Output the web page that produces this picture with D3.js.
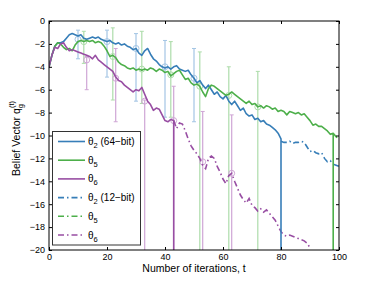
<!DOCTYPE html>
<html>
<head>
<meta charset="utf-8">
<script src="https://cdn.jsdelivr.net/npm/d3@7"></script>
<style>
    body { margin: 0; background: #fff; }
    svg text { font-family: "Liberation Sans", Arial, sans-serif; fill: #000; }
</style>
</head>
<body>
<div id="chart"></div>
<script>
    // first iteration of each curve
    var blue64Start = 0, green64Start = 0, purple64Start = 0;
    var blue12Start = 80, green12Start = 98, purple12Start = 43;

    // theta_2, 64-bit (falls to -inf after its last value)
    var blue64 = [-4.0, -3.0, -2.2, -1.9, -1.9, -1.8, -1.5, -1.2, -1.1, -1.2,
        -1.3, -1.2, -1.5, -1.6, -1.5, -1.4, -1.5, -1.4, -1.6, -1.7,
        -1.8, -1.7, -1.9, -2.0, -1.9, -2.1, -2.0, -2.2, -2.3, -2.5,
        -2.4, -2.8, -3.0, -2.6, -2.4, -2.9, -3.3, -3.5, -3.8, -4.0,
        -4.1, -4.0, -4.2, -4.0, -3.9, -4.2, -4.3, -4.4, -4.3, -4.7,
        -5.0, -5.4, -5.2, -5.6, -5.9, -5.6, -6.0, -6.4, -6.2, -6.6,
        -6.8, -6.5, -7.0, -7.3, -7.0, -7.4, -7.8, -7.6, -8.1, -8.3,
        -8.2, -8.6, -8.5, -8.8, -8.7, -9.0, -9.1, -9.3, -9.5, -9.8,
        -10.3];
    // theta_5, 64-bit
    var green64 = [-4.0, -3.0, -2.2, -1.9, -2.0, -2.3, -2.5, -2.4, -2.6, -2.1,
        -1.8, -1.7, -1.8, -1.7, -1.8, -1.7, -1.9, -1.8, -1.9, -2.2,
        -2.6, -3.1, -3.0, -3.2, -3.6, -3.8, -3.9, -4.1, -4.2, -4.1,
        -4.3, -4.2, -4.3, -4.2, -4.3, -4.1, -4.2, -4.4, -4.2, -4.3,
        -4.5, -4.4, -4.8, -4.6, -4.4, -4.3, -4.7, -5.1, -5.0, -5.4,
        -5.6, -5.5, -5.7, -6.2, -6.6, -5.9, -5.6, -5.7, -5.9, -6.1,
        -6.3, -6.5, -6.4, -6.2, -6.4, -6.6, -6.8, -7.0, -7.2, -7.0,
        -7.3, -7.2, -7.5, -7.4, -7.6, -7.4, -7.5, -7.7, -7.6, -7.9,
        -7.8, -7.9, -8.2, -7.9, -8.0, -8.1, -8.0, -8.2, -8.1, -8.4,
        -8.7, -9.1, -9.0, -9.2, -9.2, -9.4, -9.6, -9.9, -9.8];
    // theta_6, 64-bit
    var purple64 = [-4.0, -3.0, -2.3, -2.4, -2.0, -1.9, -2.3, -2.6, -2.5, -2.6,
        -2.7, -2.8, -2.9, -3.0, -3.1, -3.3, -3.0, -3.4, -3.6, -3.8,
        -4.0, -4.2, -4.4, -4.9, -5.2, -5.3, -5.6, -5.8, -6.0, -6.2,
        -6.0, -6.1, -5.8, -6.4, -7.0, -7.3, -7.8, -7.6, -7.7, -8.2,
        -8.7, -8.8, -8.6, -8.7];

    // 12-bit curves, shown where the 64-bit ones have dropped out
    var blue12 = [-10.5, -10.6, -10.6, -10.5, -10.7, -10.6, -10.6, -10.5, -10.6, -11.0,
        -11.4, -11.3, -11.5, -11.6, -11.5, -12.0, -12.3, -12.2, -12.5, -12.6,
        -12.7];
    var green12 = [-9.8, -10.1, -10.4];
    var purple12 = [-8.7, -9.4, -8.9, -9.0, -9.6, -10.3, -10.9, -11.3, -11.6, -12.0,
        -12.6, -12.9, -12.0, -11.8, -12.0, -12.7, -13.2, -13.8, -14.2, -13.5,
        -13.3, -14.0, -14.6, -15.2, -15.6, -15.9, -15.5, -16.1, -16.3, -16.6,
        -16.4, -16.7, -16.5, -16.8, -17.1, -17.4, -17.9, -18.4, -18.7, -18.8,
        -18.7, -18.8, -18.9, -19.0, -19.1, -19.2, -19.4, -19.8];

    // error bars: iteration, mean, upper, lower
    var blueErrT = [10, 20, 30, 40, 50];
    var blueErrMean = [-1.6, -1.8, -2.4, -4.0, -5.0];
    var blueErrHi = [-0.8, -0.8, -1.1, -1.7, -2.4];
    var blueErrLo = [-3.3, -4.9, -7.0, -8.4, -8.8];

    var greenErrT = [12, 22, 32, 42, 52, 62, 72];
    var greenErrMean = [-1.8, -3.1, -4.2, -4.7, -5.7, -6.5, -7.5];
    var greenErrHi = [-0.9, -0.6, -0.9, -1.8, -2.7, -4.0, -4.4];
    var greenErrLo = [-3.7, -6.9, -7.2, -8.4, -25, -25, -25];

    var purpleErrT = [13, 23, 33, 43, 53, 63];
    var purpleErrMean = [-3.4, -5.0, -7.0, -8.7, -12.3, -13.3];
    var purpleErrHi = [-3.1, -2.4, -6.9, -5.7, -7.9, -8.2];
    var purpleErrLo = [-6.0, -8.8, -25, -25, -25, -25];

    var xTicks = [0, 20, 40, 60, 80, 100];
    var yTicks = [0, -2, -4, -6, -8, -10, -12, -14, -16, -18, -20];

    var blue = "#377eb8", green = "#4daf4a", purple = "#984ea3";
    var blueLight = "#a3c5e4", greenLight = "#addcaa", purpleLight = "#cfa6d5";

    var W = 374, H = 281;
    var margin = { top: 21, right: 35, bottom: 31, left: 49 };

    var svg = d3.select("#chart").append("svg")
        .attr("width", W)
        .attr("height", H);

    var x = d3.scaleLinear().domain([0, 100]).range([margin.left, W - margin.right]);
    var y = d3.scaleLinear().domain([-20, 0]).range([H - margin.bottom, margin.top]);

    svg.append("clipPath").attr("id", "plotclip")
        .append("rect")
        .attr("x", x(0)).attr("y", y(0))
        .attr("width", x(100) - x(0)).attr("height", y(-20) - y(0));

    var plot = svg.append("g").attr("clip-path", "url(#plotclip)");

    function toPoints(start, vals) {
        return vals.map(function (v, i) { return [start + i, v]; });
    }

    var line = d3.line()
        .x(function (d) { return x(d[0]); })
        .y(function (d) { return y(d[1]); });

    // error bars first, lines go on top
    function errorBars(ts, means, his, los, col) {
        var g = plot.append("g");
        ts.forEach(function (t, i) {
            g.append("line")
                .attr("x1", x(t)).attr("x2", x(t))
                .attr("y1", y(his[i])).attr("y2", y(los[i]))
                .attr("stroke", col).attr("stroke-width", 1.2);
            [his[i], los[i]].forEach(function (v) {
                g.append("line")
                    .attr("x1", x(t) - 2).attr("x2", x(t) + 2)
                    .attr("y1", y(v)).attr("y2", y(v))
                    .attr("stroke", col).attr("stroke-width", 1);
            });
            g.append("circle")
                .attr("cx", x(t)).attr("cy", y(means[i]))
                .attr("r", 3)
                .attr("fill", "none")
                .attr("stroke", col).attr("stroke-width", 1);
        });
    }
    errorBars(blueErrT, blueErrMean, blueErrHi, blueErrLo, blueLight);
    errorBars(greenErrT, greenErrMean, greenErrHi, greenErrLo, greenLight);
    errorBars(purpleErrT, purpleErrMean, purpleErrHi, purpleErrLo, purpleLight);

    var dashDot = "6,3,1.5,3";

    // 12-bit curves
    [[blue12Start, blue12, blue], [green12Start, green12, green], [purple12Start, purple12, purple]]
        .forEach(function (s) {
            plot.append("path")
                .attr("d", line(toPoints(s[0], s[1])))
                .attr("fill", "none")
                .attr("stroke", s[2])
                .attr("stroke-width", 1.6)
                .attr("stroke-dasharray", dashDot);
        });

    // 64-bit curves, each drops straight down after its last value
    [[blue64Start, blue64, blue], [green64Start, green64, green], [purple64Start, purple64, purple]]
        .forEach(function (s) {
            var pts = toPoints(s[0], s[1]);
            pts.push([pts[pts.length - 1][0], -20]);
            plot.append("path")
                .attr("d", line(pts))
                .attr("fill", "none")
                .attr("stroke", s[2])
                .attr("stroke-width", 1.6)
                .attr("stroke-linejoin", "round");
        });

    // axes, ticks pointing inwards
    var fmt = d3.format("d");
    svg.append("g")
        .attr("transform", "translate(0," + y(-20) + ")")
        .call(d3.axisBottom(x).tickValues(xTicks).tickSize(-3).tickPadding(4).tickFormat(fmt))
        .call(function (g) { g.select(".domain").remove(); });
    svg.append("g")
        .attr("transform", "translate(" + x(0) + ",0)")
        .call(d3.axisLeft(y).tickValues(yTicks).tickSize(-3).tickPadding(4).tickFormat(fmt))
        .call(function (g) { g.select(".domain").remove(); });
    svg.append("g")
        .attr("transform", "translate(0," + y(0) + ")")
        .call(d3.axisTop(x).tickValues(xTicks).tickSize(-3).tickFormat(""))
        .call(function (g) { g.select(".domain").remove(); });
    svg.append("g")
        .attr("transform", "translate(" + x(100) + ",0)")
        .call(d3.axisRight(y).tickValues(yTicks).tickSize(-3).tickFormat(""))
        .call(function (g) { g.select(".domain").remove(); });
    svg.selectAll(".tick text").attr("font-size", 9).attr("font-family", "Liberation Sans, Arial, sans-serif");
    svg.selectAll(".tick line").attr("stroke", "#000");

    svg.append("rect")
        .attr("x", x(0)).attr("y", y(0))
        .attr("width", x(100) - x(0)).attr("height", y(-20) - y(0))
        .attr("fill", "none").attr("stroke", "#000").attr("stroke-width", 1);

    // axis labels
    svg.append("text")
        .attr("x", (x(0) + x(100)) / 2).attr("y", 272)
        .attr("text-anchor", "middle")
        .attr("font-size", 10.5)
        .text("Number of iterations, t");

    var yl = svg.append("text")
        .attr("transform", "translate(20," + (y(-10) + 3) + ") rotate(-90)")
        .attr("text-anchor", "middle")
        .attr("font-size", 10.5);
    yl.append("tspan").text("Belief Vector q");
    yl.append("tspan").attr("font-size", 7.5).attr("dy", 3).text("g");
    yl.append("tspan").attr("font-size", 7.5).attr("dx", -4).attr("dy", -9).text("(t)");

    // legend
    var legendItems = [
        { sub: "2", extra: " (64\u2212bit)", col: blue, dash: null },
        { sub: "5", extra: "", col: green, dash: null },
        { sub: "6", extra: "", col: purple, dash: null },
        { sub: "2", extra: " (12\u2212bit)", col: blue, dash: dashDot },
        { sub: "5", extra: "", col: green, dash: dashDot },
        { sub: "6", extra: "", col: purple, dash: dashDot }
    ];
    var lg = svg.append("g");
    lg.append("rect")
        .attr("x", 52.5).attr("y", 131.5)
        .attr("width", 88).attr("height", 113.5)
        .attr("fill", "#fff").attr("stroke", "#333").attr("stroke-width", 1);
    legendItems.forEach(function (d, i) {
        var ly = 141.5 + i * 18.7;
        lg.append("line")
            .attr("x1", 58).attr("x2", 85)
            .attr("y1", ly).attr("y2", ly)
            .attr("stroke", d.col).attr("stroke-width", 1.6)
            .attr("stroke-dasharray", d.dash);
        var t = lg.append("text")
            .attr("x", 88).attr("y", ly + 3.5)
            .attr("font-size", 10);
        t.append("tspan").text("\u03b8");
        t.append("tspan").attr("font-size", 7.5).attr("dy", 3).text(d.sub);
        if (d.extra) t.append("tspan").attr("dy", -3).text(d.extra);
    });
</script>
</body>
</html>
